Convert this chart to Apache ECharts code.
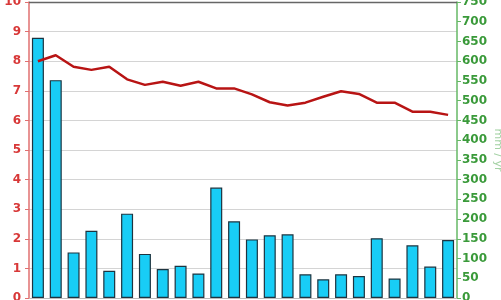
<!DOCTYPE html>
<html>
<head>
<meta charset="utf-8">
<script src="https://cdn.jsdelivr.net/npm/echarts@6/dist/echarts.min.js"></script>
<style>html,body{margin:0;padding:0;background:#fff}#c{width:501px;height:300px}</style>
</head>
<body>
<div id="c"></div>
<script>
const categories = ["1","2","3","4","5","6","7","8","9","10","11","12","13","14","15","16","17","18","19","20","21","22","23","24"];
const barValues = [8.79,7.36,1.54,2.27,0.92,2.85,1.49,0.98,1.09,0.83,3.73,2.59,1.98,2.12,2.15,0.80,0.63,0.80,0.74,2.02,0.66,1.78,1.06,1.96];
const lineValues = [600,615,586,578,586,554,540,548,538,548,531,531,516,496,488,495,510,524,517,495,495,472,472,464];
const leftTicks = {min:0, max:10, interval:1};
const rightTicks = {min:0, max:750, interval:50};
const rightName = "mm / yr";

const chart = echarts.init(document.getElementById('c'), null, {renderer:'canvas'});
chart.setOption({
  animation:false,
  grid:{left:29, right:44, top:2, bottom:2, outerBoundsMode:'none', containLabel:false},
  xAxis:{type:'category', data:categories, boundaryGap:true,
    axisLabel:{show:false}, axisTick:{show:false},
    axisLine:{show:true, lineStyle:{color:'#bbb'}}},
  yAxis:[
    {type:'value', min:leftTicks.min, max:leftTicks.max, interval:leftTicks.interval, position:'left',
     axisLine:{show:true, lineStyle:{color:'#e07070', width:1.5}},
     axisTick:{show:true, length:4, lineStyle:{color:'#e07070'}},
     axisLabel:{color:'#d83838', fontFamily:'DejaVu Sans', fontSize:12, fontWeight:'bold', margin:8},
     splitLine:{show:true, lineStyle:{color:'#d4d4d4', width:1}}},
    {type:'value', min:rightTicks.min, max:rightTicks.max, interval:rightTicks.interval, position:'right',
     name:rightName, nameLocation:'middle', nameGap:35, nameRotate:-90, nameMoveOverlap:false,
     nameTextStyle:{color:'#a5d2a5', fontSize:11, fontFamily:'DejaVu Sans'},
     axisLine:{show:true, lineStyle:{color:'#66b866', width:1.5}},
     axisTick:{show:true, length:4, lineStyle:{color:'#66b866'}},
     axisLabel:{color:'#3a9a3a', fontFamily:'DejaVu Sans', fontSize:12, fontWeight:'bold', margin:5},
     splitLine:{show:false}}
  ],
  series:[
    {type:'bar', yAxisIndex:0, data:barValues, barWidth:12,
     itemStyle:{color:'#18cdf6', borderColor:'#1d3440', borderWidth:1.2}},
    {type:'line', yAxisIndex:1, data:lineValues, symbol:'none',
     lineStyle:{color:'#b81414', width:2.5}, z:5}
  ],
  graphic:[{type:'line', shape:{x1:29, y1:2.5, x2:457, y2:2.5}, style:{stroke:'#666', lineWidth:1.5}, z:10}]
});
</script>
</body>
</html>
